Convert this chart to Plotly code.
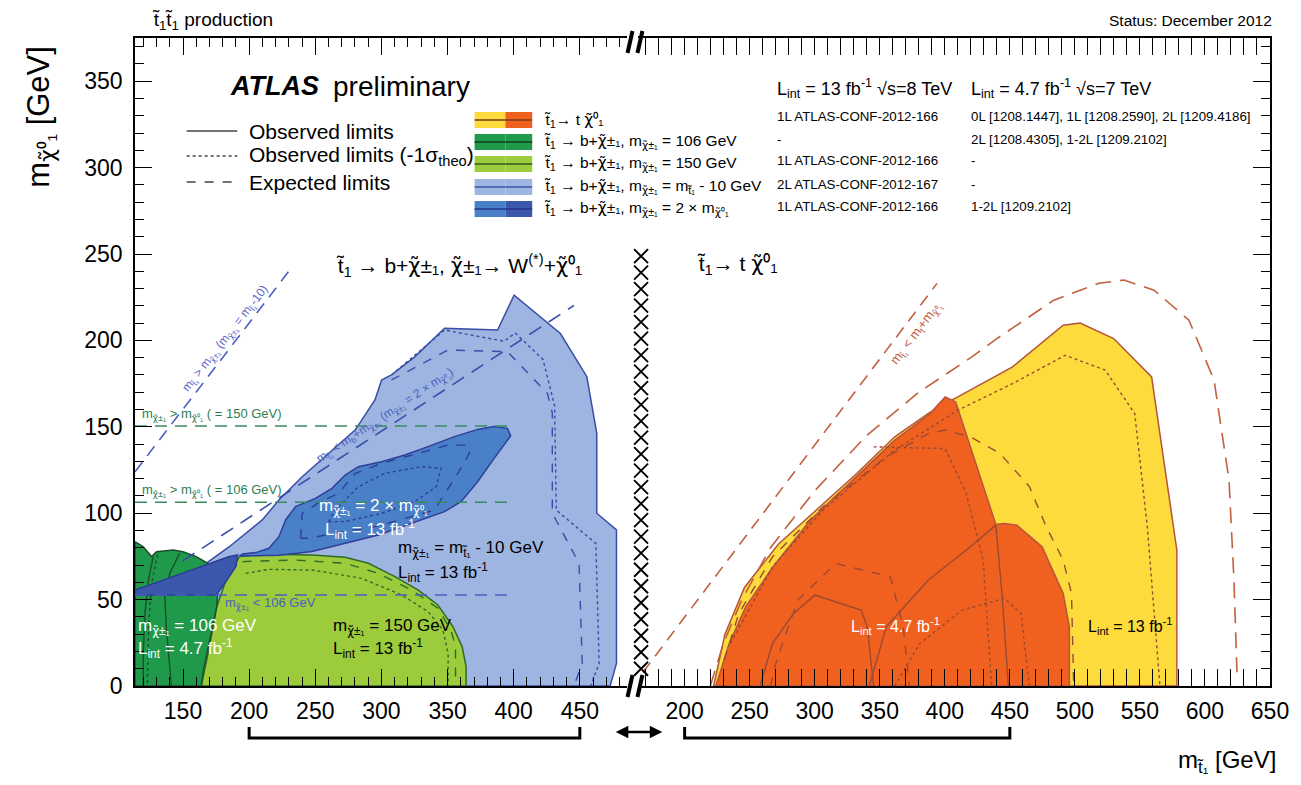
import plotly.graph_objects as go

# ---------------- data (GeV) ----------------
# Left panel: t1 -> b + chi1+-
LB_X = [167.4, 185, 209.9, 222.5, 240.1, 260.1, 280.1, 295.1, 300.1, 307.6, 325.2, 347.7, 387.8, 400.3, 435.3, 455.3, 462.8, 462.8, 477.7, 477.7, 472.9, 164.4]
LB_Y = [71, 80.6, 96.1, 107.6, 121.1, 134.6, 148.1, 165.5, 177, 180, 190.5, 207, 206, 226.2, 204, 179, 146.2, 100, 90.3, 13.1, 0, 0]
LB_DOT_X = [307.6, 347.7, 392.8, 401.1, 422.1, 430.9, 432.2, 462.1, 464.6, 458.2]
LB_DOT_Y = [180, 206, 199.5, 204.3, 189, 162.4, 101.8, 82.5, 13.1, 0]
LB_DASH_X = [307.6, 350.2, 395.3, 425.5, 429.2, 429.2, 449.4, 451.8, 445.5]
LB_DASH_Y = [177.1, 194.4, 193.5, 169.3, 157.9, 100, 71, 13.1, 0]

LG_X = [192.6, 210, 247.6, 272.6, 290.2, 310.2, 327.6, 342.7, 354, 361, 364, 364, 163.8, 170, 175.5, 182.5]
LG_Y = [74.9, 76.4, 75.8, 74.5, 71, 63.3, 55.6, 46.9, 34.4, 22.8, 11.2, 0, 0, 22.8, 45.9, 61.3]
LG_DASH_X = [195, 235.1, 272.6, 297.7, 322.7, 342.7, 352.5, 356, 356]
LG_DASH_Y = [72, 72.9, 71, 65.2, 55.6, 45, 32.4, 22.8, 0]
LG_DOT_X = [197.5, 215, 247.6, 285.1, 315.2, 335.2, 346.5, 350.4, 350.4]
LG_DOT_Y = [65.2, 67.5, 67.1, 62.3, 52.7, 43.1, 32.4, 18.9, 0]

MB_X = [192.6, 222.5, 247.6, 272.6, 297.7, 322.7, 347.7, 360.2, 372.7, 385.2, 397.7, 395.3, 385.2, 372.7, 355.2, 335.2, 317.7, 300.1, 282.6, 272.6, 262.6, 250.1, 235.1, 227.6, 222.5, 215, 205, 195]
MB_Y = [75.2, 75.6, 77.8, 82.6, 87.4, 94.1, 100.9, 106.7, 118.2, 131.7, 144.7, 149.1, 150.1, 148.5, 144.3, 138.5, 133.7, 129.8, 126.9, 122.1, 114.4, 108.6, 103.8, 96.1, 86.4, 79.7, 77.2, 76.4]
MB_DASH_X = [238.8, 240.1, 252.6, 267.6, 280.1, 300.1, 327.6, 350.2, 365.2, 366.5, 357.7, 347.7, 340.1, 322.7, 295.1, 265.1, 245.1, 238.8]
MB_DASH_Y = [85.5, 99.9, 106.1, 111.5, 123.1, 128.8, 134.6, 139.4, 139.4, 134.6, 123.1, 111.5, 101.9, 98, 92.2, 88.4, 85.5, 85.5]
MB_DOT_X = [260.1, 265.1, 282.6, 302.7, 330.2, 345.2, 341.4, 325.2, 300.1, 272.6, 260.1]
MB_DOT_Y = [95.1, 101.8, 115.3, 123.1, 126.9, 126, 115.3, 106.7, 99.9, 95.1, 95.1]

DG_X = [113.7, 120, 126.2, 130, 142.5, 150, 160, 168.7, 173.7, 176.3, 175.5, 172.5, 168.7, 165.5, 163.8, 113.7]
DG_Y = [83.5, 80.6, 74.9, 77.7, 78.7, 77.7, 74.9, 71, 65.2, 55.6, 45.9, 34.4, 20.9, 9.3, 0, 0]
DG_L1_X = [127.5, 123.8, 121.2, 120, 120]
DG_L1_Y = [74.9, 61.3, 42, 20, 0]
DG_L2_X = [147.5, 140, 136.2, 137.5, 141.2]
DG_L2_Y = [76.8, 65.2, 51.7, 32.4, 0]
DG_L3_X = [130.8, 126.4, 124, 123]
DG_L3_Y = [76, 60, 35, 0]

DB_X = [113.7, 113.7, 142.5, 170, 185, 191.3, 190, 182.5, 175]
DB_Y = [52.7, 55.5, 63.3, 71, 74.9, 75.8, 69.1, 60.4, 52.7]

KIN1_X = [113.7, 232.3]     # m_chi+- = m_t1 - 10 boundary
KIN1_Y = [124, 242.3]
KIN2_X = [149.8, 445.5]     # m_chi+- = 2 x m_chi0 boundary
KIN2_Y = [72.4, 220.2]
HLINE_X = [113.7, 400.3]
HLINE150 = 150.5
HLINE106 = 106.3
HLINE52 = 52.6

# Right panel: t1 -> t chi0
YEL_X = [222.3, 231, 246, 272, 300, 332.3, 361.5, 387.4, 400.3, 410, 452.1, 491, 504, 529.8, 559, 578.4, 578.4]
YEL_Y = [0, 30, 57, 82, 101, 123, 144.2, 157.7, 163.5, 167.3, 184.7, 208.8, 210.1, 201.1, 178.9, 78.6, 0]
ORG_X = [224, 234, 247, 268, 296.7, 329.1, 361.5, 387.4, 400.3, 408.4, 419.7, 432.7, 439.2, 445.6, 455.4, 474.8, 491, 495.8, 495.8]
ORG_Y = [0, 24, 46, 69, 96, 119.1, 142.3, 156.7, 167.3, 164.4, 138.4, 107.6, 93.5, 94.1, 93.1, 80.6, 53.6, 34.3, 0]
S1_X = [342, 355, 387.4, 419.7, 439.2]
S1_Y = [0, 34.3, 61.3, 80.6, 93.1]
S2_X = [439.2, 444, 448.9]
S2_Y = [93.1, 53, 0]
S3_X = [257.9, 267.6, 283.8, 300, 335.6, 340.4, 345.3]
S3_Y = [0, 24.7, 42, 52.6, 44, 34.3, 0]
E1_X = [266, 270.8, 287, 316.1, 358.2, 368, 372.8]
E1_Y = [0, 15, 49.7, 70.9, 63.2, 34.3, 0]
EA_X = [230.4, 241.7, 267.6, 306.4, 355, 387.4, 400.3, 419.7, 442.4, 465.1, 478, 491, 497.4, 499.1]
EA_Y = [15, 42, 74.8, 103.7, 132.6, 146.1, 148.1, 144.2, 134.6, 115.3, 92.1, 72.9, 53.6, 0]
DB1_X = [235.2, 267.6, 306.4, 361.5, 410, 452.1, 492.6, 523.3, 546, 555.7, 565.4]
DB1_Y = [24.7, 69, 101.8, 136.5, 159.6, 175, 191.4, 182.8, 157.7, 92.1, 0]
D1_X = [361.5, 380.9, 413.3, 445.6, 458.6, 465]
D1_Y = [0, 24.7, 43.9, 50.7, 42, 0]
D2_X = [345.3, 400.3, 416.5, 429.5, 436]
D2_Y = [138.4, 137.4, 111.4, 72.9, 0]
OUT_X = [219.7, 230, 244, 266, 300, 340, 380, 420, 440, 483.8, 518.5, 537.7, 560.8, 587.7, 607, 618.5, 622.3, 624.6]
OUT_Y = [0, 25, 50, 80, 113, 145, 170, 190, 201, 223.3, 233.1, 234.9, 229.1, 211.7, 177, 119.2, 61.3, 8]
KIN3_X = [168, 394]
KIN3_Y = [8, 233]

XCOL_Y = [10 + 9.55 * i for i in range(26)]   # decorative cross-hatch column

LEFT_TICKS = [150, 200, 250, 300, 350, 400, 450]
RIGHT_TICKS = [200, 250, 300, 350, 400, 450, 500, 550, 600, 650]
Y_TICKS = [0, 50, 100, 150, 200, 250, 300, 350]

# ---------------- styles ----------------
LIGHT_BLUE = '#9DB5E0'
MED_BLUE = '#4A80C8'
DARK_BLUE = '#3C58AC'
LIGHT_GREEN = '#9CCB3C'
DARK_GREEN = '#1E9A4A'
YELLOW = '#FDDB3C'
ORANGE = '#F0601F'
BLUE_LINE = '#3A4DA8'
BROWN = '#9A4A32'
GREEN_DASH = '#3A8A60'

W, H = 1301, 785
L, R, T, B = 135, 23, 38, 99
PW, PH = W - L - R, H - T - B


def PX(px):
    return (px - L) / PW


def PY(py):
    return (H - B - py) / PH


fig = go.Figure()


def poly(xs, ys, fill, line, xa='x', width=1.5):
    fig.add_trace(go.Scatter(x=xs + [xs[0]], y=ys + [ys[0]], xaxis=xa, yaxis='y', mode='lines',
                             fill='toself', fillcolor=fill, line=dict(color=line, width=width),
                             hoverinfo='skip', showlegend=False))


def curve(xs, ys, color, dash, xa='x', width=1.4):
    fig.add_trace(go.Scatter(x=xs, y=ys, xaxis=xa, yaxis='y', mode='lines',
                             line=dict(color=color, width=width, dash=dash),
                             hoverinfo='skip', showlegend=False))


# left panel
poly(LB_X, LB_Y, LIGHT_BLUE, BLUE_LINE)
curve(LB_DOT_X, LB_DOT_Y, BLUE_LINE, 'dot')
curve(LB_DASH_X, LB_DASH_Y, BLUE_LINE, 'dash')
poly(LG_X, LG_Y, LIGHT_GREEN, '#2F6B2A')
curve(LG_DASH_X, LG_DASH_Y, '#2F6B2A', 'dash')
curve(LG_DOT_X, LG_DOT_Y, '#2F6B2A', 'dot')
poly(MB_X, MB_Y, MED_BLUE, '#2E3F99')
curve(MB_DASH_X, MB_DASH_Y, '#2E3F99', 'dash')
curve(MB_DOT_X, MB_DOT_Y, '#2E3F99', 'dot')
poly(DG_X, DG_Y, DARK_GREEN, '#1D4F2C')
curve(DG_L1_X, DG_L1_Y, '#1D4F2C', 'solid')
curve(DG_L2_X, DG_L2_Y, '#1D4F2C', 'solid')
curve(DG_L3_X, DG_L3_Y, '#1D4F2C', 'dot')
poly(DB_X, DB_Y, DARK_BLUE, '#2B3C96')

curve(HLINE_X, [HLINE150, HLINE150], GREEN_DASH, '12px,8px', width=1.5)
curve(HLINE_X, [HLINE106, HLINE106], GREEN_DASH, '12px,8px', width=1.5)
curve(HLINE_X, [HLINE52, HLINE52], '#4A5FC0', '12px,8px', width=1.5)
curve(KIN1_X, KIN1_Y, '#4A5FC0', '12px,8px', width=1.6)
curve(KIN2_X, KIN2_Y, '#3A4DA8', '14px,9px', width=1.6)

# right panel
poly(YEL_X, YEL_Y, YELLOW, '#B5543B', xa='x2')
poly(ORG_X, ORG_Y, ORANGE, '#B5543B', xa='x2')
for xs, ys, d in [(S1_X, S1_Y, 'solid'), (S2_X, S2_Y, 'solid'), (S3_X, S3_Y, 'solid'),
                  (E1_X, E1_Y, 'dash'), (EA_X, EA_Y, 'dash'), (D1_X, D1_Y, 'dot'),
                  (D2_X, D2_Y, 'dot'), (DB1_X, DB1_Y, 'dot')]:
    curve(xs, ys, BROWN, d, xa='x2')
curve(OUT_X, OUT_Y, '#C0603F', '16px,9px', xa='x2', width=1.6)
curve(KIN3_X, KIN3_Y, '#C0603F', '12px,8px', xa='x2', width=1.6)

# cross-hatch column between panels
fig.add_trace(go.Scatter(x=[166.5] * len(XCOL_Y), y=XCOL_Y, xaxis='x2', yaxis='y', mode='markers',
                         marker=dict(symbol='x-thin', size=14, line=dict(color='black', width=1.9)),
                         cliponaxis=False, hoverinfo='skip', showlegend=False))
# invisible trace for the right-hand y axis
fig.add_trace(go.Scatter(x=[400], y=[0], xaxis='x2', yaxis='y2', mode='markers',
                         marker=dict(opacity=0), hoverinfo='skip', showlegend=False))

FONT = 'Liberation Sans, Arial, sans-serif'

axis_common = dict(showgrid=False, zeroline=False, showline=True, linecolor='black', linewidth=1.8,
                   ticks='inside', ticklen=17, tickwidth=1.2, tickcolor='black',
                   tickfont=dict(family=FONT, size=23, color='black'))
minor = dict(ticks='inside', ticklen=9, tickwidth=1, tickcolor='black', dtick=10, showgrid=False)

fig.update_layout(
    width=W, height=H, margin=dict(l=L, r=R, t=T, b=B),
    plot_bgcolor='white', paper_bgcolor='white', showlegend=False,
    font=dict(family=FONT, color='black'),
    xaxis=dict(domain=[0, PX(630)], range=[113.7, 485.3], tickvals=LEFT_TICKS, anchor='y',
               mirror='allticks', minor=minor, ticklabelstandoff=3, **axis_common),
    xaxis2=dict(domain=[PX(642), 1], range=[164.5, 650], tickvals=RIGHT_TICKS, anchor='y',
                mirror='allticks', minor=minor, ticklabelstandoff=3, **axis_common),
    yaxis=dict(domain=[0, 1], range=[0, 375], tickvals=Y_TICKS, anchor='x', minor=minor,
               ticklabelstandoff=6, **axis_common),
    yaxis2=dict(domain=[0, 1], range=[0, 375], overlaying='y', anchor='x2', side='right',
                showticklabels=False, minor=minor, tickvals=Y_TICKS,
                **{k: v for k, v in axis_common.items() if k != 'tickfont'}),
)

ann = []


def text(x, y, s, size=17, color='black', xref='x', yref='y', xanchor='left', yanchor='middle',
         angle=0, family=FONT):
    ann.append(dict(x=x, y=y, xref=xref, yref=yref, text=s, showarrow=False, xanchor=xanchor,
                    yanchor=yanchor, textangle=angle, font=dict(size=size, color=color, family=family)))


CHI = '<span style="font-family:DejaVu Sans">χ̃</span>'
T1 = 't̃'
# outside texts
text(PX(150), PY(21), f'{T1}<sub>1</sub>{T1}<sub>1</sub> production', 19, xref='paper', yref='paper')
text(PX(1282), PY(21), 'Status: December 2012', 15.5, xref='paper', yref='paper', xanchor='right')
text(PX(40), PY(117), f'm<sub>{CHI}⁰₁</sub> [GeV]', 31, xref='paper', yref='paper', xanchor='center', angle=-90)
text(PX(1286), PY(761), f'm<sub>{T1}₁</sub> [GeV]', 24, xref='paper', yref='paper', xanchor='right')

# header
text(PX(229), PY(86), '<b><i>ATLAS</i></b>', 27, xref='paper', yref='paper')
text(PX(332), PY(86), 'preliminary', 28, xref='paper', yref='paper')
text(PX(248), PY(131), 'Observed limits', 21, xref='paper', yref='paper')
text(PX(248), PY(156), 'Observed limits (-1σ<sub>theo</sub>)', 21, xref='paper', yref='paper')
text(PX(248), PY(182), 'Expected limits', 21, xref='paper', yref='paper')

rows_y = [120, 142, 164, 187, 209]
leg_txt = [f'{T1}<sub>1</sub>→ t {CHI}⁰₁',
           f'{T1}<sub>1</sub> → b+{CHI}±₁, m<sub>{CHI}±₁</sub> = 106 GeV',
           f'{T1}<sub>1</sub> → b+{CHI}±₁, m<sub>{CHI}±₁</sub> = 150 GeV',
           f'{T1}<sub>1</sub> → b+{CHI}±₁, m<sub>{CHI}±₁</sub> = m<sub>{T1}₁</sub> - 10 GeV',
           f'{T1}<sub>1</sub> → b+{CHI}±₁, m<sub>{CHI}±₁</sub> = 2 × m<sub>{CHI}⁰₁</sub>']
col2 = ['1L ATLAS-CONF-2012-166', '-', '1L ATLAS-CONF-2012-166', '2L ATLAS-CONF-2012-167', '1L ATLAS-CONF-2012-166']
col3 = ['0L [1208.1447], 1L [1208.2590], 2L [1209.4186]', '2L [1208.4305], 1-2L [1209.2102]', '-', '-', '1-2L [1209.2102]']
for yy, a, b, c in zip(rows_y, leg_txt, col2, col3):
    text(PX(545), PY(yy), a, 15.5, xref='paper', yref='paper')
    text(PX(780), PY(yy - 3), b, 13.3, xref='paper', yref='paper')
    text(PX(975), PY(yy - 3), c, 13.3, xref='paper', yref='paper')
text(PX(780), PY(88), 'L<sub>int</sub> = 13 fb<sup>-1</sup> √s=8 TeV', 18, xref='paper', yref='paper')
text(PX(975), PY(88), 'L<sub>int</sub> = 4.7 fb<sup>-1</sup> √s=7 TeV', 18, xref='paper', yref='paper')

# panel titles
text(358.5, 243.5, f'{T1}<sub>1</sub> → b+{CHI}±₁, {CHI}±₁→ W<sup>(*)</sup>+{CHI}⁰₁', 21, xanchor='center')
text(208, 243.5, f'{T1}<sub>1</sub>→ t {CHI}⁰₁', 21, xref='x2')

# labels in left panel
text(293.9, 103.5, f'm<sub>{CHI}±₁</sub> = 2 × m<sub>{CHI}⁰₁</sub>', 17, 'white', xanchor='center')
text(291.3, 90.5, 'L<sub>int</sub> = 13 fb<sup>-1</sup>', 17, 'white', xanchor='center')
text(310.9, 79, f'm<sub>{CHI}±₁</sub> = m<sub>{T1}₁</sub> - 10 GeV', 17)
text(310.9, 65.5, 'L<sub>int</sub> = 13 fb<sup>-1</sup>', 17)
text(262, 34, f'm<sub>{CHI}±₁</sub> = 150 GeV', 17)
text(262, 21.5, 'L<sub>int</sub> = 13 fb<sup>-1</sup>', 17)
text(114.2, 34, f'm<sub>{CHI}±₁</sub> = 106 GeV', 17, 'white')
text(114.2, 21.5, 'L<sub>int</sub> = 4.7 fb<sup>-1</sup>', 17, 'white')
text(180.2, 47.5, f'm<sub>{CHI}±₁</sub> &lt; 106 GeV', 13, '#4A5FC0')
text(117.6, 157, f'm<sub>{CHI}±₁</sub> &gt; m<sub>{CHI}⁰₁</sub> ( = 150 GeV)', 13, '#2E7D4F')
text(117.6, 113, f'm<sub>{CHI}±₁</sub> &gt; m<sub>{CHI}⁰₁</sub> ( = 106 GeV)', 13, '#2E7D4F')
text(182, 201, f'm<sub>{T1}₁</sub> &gt; m<sub>{CHI}±₁</sub> (m<sub>{CHI}±₁</sub> = m<sub>{T1}₁</sub>-10)', 12,
     '#5566C8', xanchor='center', angle=-52)
text(303, 156, f'm<sub>{T1}₁</sub> &lt; m<sub>b</sub>+m<sub>{CHI}±₁</sub> (m<sub>{CHI}±₁</sub> = 2 × m<sub>{CHI}⁰₁</sub>)', 12,
     '#4A5FC0', xanchor='center', angle=-33.6)

# labels in right panel
text(378, 204, f'm<sub>{T1}₁</sub> &lt; m<sub>t</sub>+m<sub>{CHI}⁰₁</sub>', 13, '#C0603F', xref='x2',
     xanchor='center', angle=-53)
text(362.3, 35, 'L<sub>int</sub> = 4.7 fb<sup>-1</sup>', 16, 'white', xref='x2', xanchor='center')
text(543, 35, 'L<sub>int</sub> = 13 fb<sup>-1</sup>', 16, xref='x2', xanchor='center')

# double arrow below the break
ann.append(dict(x=PX(666), y=PY(732), xref='paper', yref='paper', text='', showarrow=True,
                ax=-48, ay=0, axref='pixel', ayref='pixel', arrowhead=2, arrowside='end+start',
                arrowsize=1, arrowwidth=2.5, arrowcolor='black'))
fig.update_layout(annotations=ann)

shapes = []
# line-style legend
for yy, d in [(131, 'solid'), (156, 'dot'), (182, 'dash')]:
    shapes.append(dict(type='line', xref='paper', yref='paper', x0=PX(187), x1=PX(238), y0=PY(yy), y1=PY(yy),
                       line=dict(color='#444444', width=1.3, dash=d)))
# colour swatches
sw = [(YELLOW, ORANGE, '#7A3A1A'), (DARK_GREEN, DARK_GREEN, '#123D20'), (LIGHT_GREEN, LIGHT_GREEN, '#2F5A1E'),
      (LIGHT_BLUE, LIGHT_BLUE, '#3D55B0'), (MED_BLUE, DARK_BLUE, '#23358A')]
for yy, (c1, c2, lc) in zip(rows_y, sw):
    shapes.append(dict(type='rect', xref='paper', yref='paper', x0=PX(477), x1=PX(508), y0=PY(yy + 8),
                       y1=PY(yy - 8), fillcolor=c1, line=dict(width=0)))
    shapes.append(dict(type='rect', xref='paper', yref='paper', x0=PX(508), x1=PX(535), y0=PY(yy + 8),
                       y1=PY(yy - 8), fillcolor=c2, line=dict(width=0)))
    shapes.append(dict(type='line', xref='paper', yref='paper', x0=PX(477), x1=PX(535), y0=PY(yy), y1=PY(yy),
                       line=dict(color=lc, width=1.3)))
# axis break marks
for base in (686, 42):
    for dx in (0, 10):
        shapes.append(dict(type='line', xref='paper', yref='paper', x0=PX(631 + dx), x1=PX(636 + dx),
                           y0=PY(base + 11), y1=PY(base - 11), line=dict(color='black', width=4)))
# brackets under the two x ranges
for xr, a, b in [('x', 200, 450), ('x2', 200, 450)]:
    shapes.append(dict(type='path', xref=xr, yref='paper',
                       path=f'M {a},{PY(727)} L {a},{PY(738)} L {b},{PY(738)} L {b},{PY(727)}',
                       line=dict(color='black', width=3)))
fig.update_layout(shapes=shapes)

fig.write_html('out.html', config={'displayModeBar': False},
               post_script="document.body.style.margin='0px';")
